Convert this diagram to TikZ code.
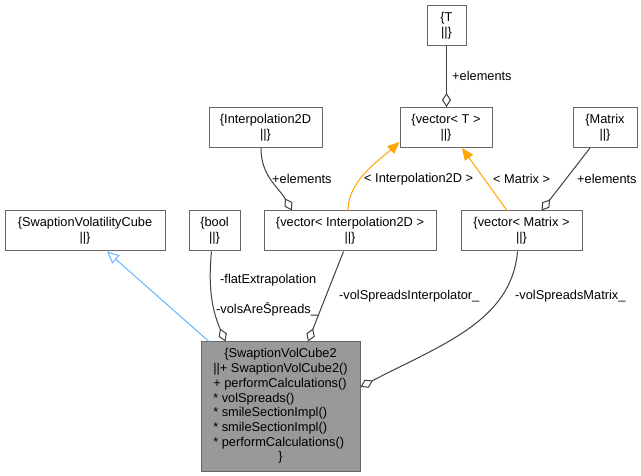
\documentclass[tikz,border=0pt]{standalone}
\usepackage{fontspec}
\setmainfont{Liberation Sans}
\usetikzlibrary{arrows.meta}
\definecolor{edgegray}{HTML}{404040}
\definecolor{boxgray}{HTML}{666666}
\definecolor{mainfill}{HTML}{999999}
\definecolor{inhblue}{HTML}{63B8FF}
\definecolor{tplorange}{HTML}{FFA500}
\begin{document}
\begin{tikzpicture}[x=1pt,y=-1pt,
  font=\fontsize{12.8}{14.7}\selectfont,
  cls/.style={draw=boxgray, fill=white, line width=1pt, minimum height=40pt, inner sep=0pt, align=center},
  usage/.style={draw=edgegray, line width=1pt, -{Diamond[open,length=14pt,width=9pt]}},
  tpl/.style={draw=tplorange, line width=1pt, -{Triangle[length=12pt,width=10pt]}},
  inh/.style={draw=inhblue, line width=1pt, -{Triangle[open,length=12pt,width=11pt]}},
  lbl/.style={anchor=west, inner sep=0pt}
]
\useasboundingbox[fill=white] (0,0) rectangle (641,476);

\node[cls, minimum width=39pt] (T) at (446.5,26) {\{T\\||\}};
\node[cls, minimum width=92pt] (vecT) at (446,127.5) {\{vector< T >\\||\}};
\node[cls, minimum width=113pt] (I2D) at (265.5,127.5) {\{Interpolation2D\\||\}};
\node[cls, minimum width=64pt] (Mat) at (605,127.5) {\{Matrix\\||\}};
\node[cls, minimum width=160pt] (SVC) at (85,231) {\{SwaptionVolatilityCube\\||\}};
\node[cls, minimum width=51pt] (bool) at (214.5,231) {\{bool\\||\}};
\node[cls, minimum width=172pt] (vecI) at (350,231) {\{vector< Interpolation2D >\\||\}};
\node[cls, minimum width=121pt] (vecM) at (521.5,231) {\{vector< Matrix >\\||\}};
\node[cls, fill=mainfill, minimum width=159pt, minimum height=129pt] (main) at (280.5,406.5)
  {\begin{tabular}{@{}l@{}}
   \multicolumn{1}{@{}c@{}}{\{SwaptionVolCube2}\\
   {}||+ SwaptionVolCube2()\\
   {}+ performCalculations()\\
   {}* volSpreads()\\
   {}* smileSectionImpl()\\
   {}* smileSectionImpl()\\
   {}* performCalculations()\\
   \multicolumn{1}{@{}c@{}}{\}}
   \end{tabular}};

% T -> vector<T>
\draw[usage] (T.south) -- (T.south |- vecT.north);
\node[lbl] (lT) at (452,76) {+elements};

% Interpolation2D -> vector<Interpolation2D>
\draw[usage] ([xshift=-4.5pt]I2D.south) .. controls +(0,28) and +(-14,-24) .. ([xshift=-58pt]vecI.north);
\node[lbl] (lI) at (272,179) {+elements};

% templates
\draw[tpl] ([xshift=-2pt]vecI.north) .. controls +(0,-30) and +(-20,18) .. ([yshift=6pt]vecT.south west);
\node[lbl] (lTI) at (364,179) {< Interpolation2D >};
\draw[tpl] ([xshift=-14.5pt]vecM.north) -- ([xshift=16pt]vecT.south);
\node[lbl] (lTM) at (493,179) {< Matrix >};

% Matrix -> vector<Matrix>
\draw[usage] ([xshift=-15pt]Mat.south) -- ([xshift=20pt]vecM.north);
\node[lbl] (lM) at (577,179) {+elements};

% inheritance
\draw[inh] ([xshift=8.5pt]main.north west) -- ([xshift=22pt]SVC.south);

% bool -> main
\draw[usage] ([xshift=-3pt]bool.south) .. controls +(-4,40) and +(-12,-28) .. ([xshift=-55pt]main.north);
\node[lbl] (lF) at (220,280) {-flatExtrapolation};
\node[lbl] (lV) at (216,310) {-volsAre\={S}preads\_};

% vector<Interpolation2D> -> main
\draw[usage] ([xshift=-6.5pt]vecI.south) -- ([xshift=27.5pt]main.north);
\node[lbl] (lSI) at (339,296) {-volSpreadsInterpolator\_};

% vector<Matrix> -> main
\draw[usage] ([xshift=-4pt]vecM.south) .. controls +(-6,70) and +(80,-42) .. ([yshift=19.5pt]main.east);
\node[lbl] (lSM) at (515,296) {-volSpreadsMatrix\_};
\end{tikzpicture}
\end{document}
